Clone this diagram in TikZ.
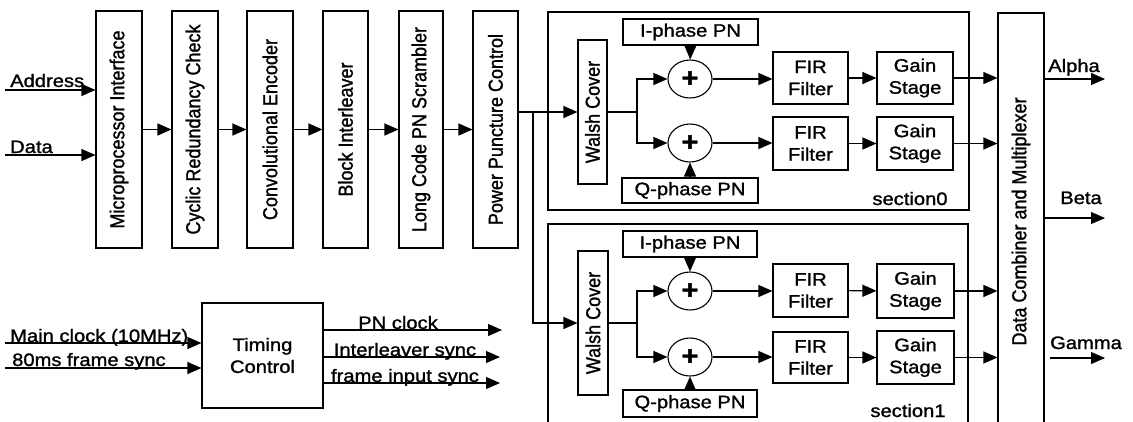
\documentclass[tikz,border=0pt]{standalone}
\usepackage{fontspec}
\setmainfont{Liberation Sans}[FakeStretch=1.12,FakeBold=1.3]
\newfontfamily\vfont{Liberation Sans}[FakeBold=1.3]
\usetikzlibrary{arrows.meta,shapes.geometric}
\tikzset{
 blk/.style={draw, line width=1.1pt, inner sep=0pt, align=center, font=\fontsize{18}{22}\selectfont},
 arr/.style={line width=1.1pt, -{Triangle[length=14pt,width=12pt]}},
 ln/.style={line width=1.1pt},
 lbl/.style={inner sep=0pt, font=\fontsize{18}{22}\selectfont},
 plus/.style={draw, ellipse, line width=1.1pt, minimum width=44pt, minimum height=38pt, inner sep=0pt, font=\fontsize{26}{26}\selectfont\bfseries},
}
\newcommand{\vtext}[1]{\rotatebox{90}{\scalebox{1}[1.12]{\vfont #1}}}
\begin{document}
\begin{tikzpicture}[x=1pt,y=-1pt]
\clip (0,0) rectangle (1133,421);
% pipeline
\node[blk, minimum width=46, minimum height=237] (mi) at (119,129.5) {\vtext{Microprocessor Interface}};
\node[blk, minimum width=46, minimum height=237] (crc) at (195,129.5) {\vtext{Cyclic Redundancy Check}};
\node[blk, minimum width=46, minimum height=237] (conv) at (270,129.5) {\vtext{Convolutional Encoder}};
\node[blk, minimum width=45, minimum height=237] (bi) at (345.5,129.5) {\vtext{Block Interleaver}};
\node[blk, minimum width=44, minimum height=237] (lc) at (421,129.5) {\vtext{Long Code PN Scrambler}};
\node[blk, minimum width=45, minimum height=237] (ppc) at (495.5,129.5) {\vtext{Power Puncture Control}};
\draw[arr] (mi) -- (crc);
\draw[arr] (crc) -- (conv);
\draw[arr] (conv) -- (bi);
\draw[arr] (bi) -- (lc);
\draw[arr] (lc) -- (ppc);
\coordinate (ad) at (5,90);
\coordinate (da) at (5,155);
\draw[arr] (ad) -- (ad -| mi.west);
\draw[arr] (da) -- (da -| mi.west);
\node[lbl, anchor=base west] (adl) at (10,87) {Address};
\node[lbl, anchor=base west] (dal) at (10,153) {Data};
% sections
\node[draw, ln, inner sep=0, minimum width=421, minimum height=198] (s0) at (758.5,111) {};
\node[draw, ln, inner sep=0, minimum width=420, minimum height=216] (s1) at (758,332) {};
\node[lbl, anchor=base] (s0l) at (910,205) {section0};
\node[lbl, anchor=base] (s1l) at (908,417) {section1};
% walsh
\node[blk, minimum width=29, minimum height=144] (w0) at (592.5,112) {\vtext{Walsh Cover}};
\node[blk, minimum width=30, minimum height=144] (w1) at (593,323) {\vtext{Walsh Cover}};
\coordinate (br) at (533,112);
\draw[arr] (ppc.east |- w0.west) -- (w0.west);
\draw[arr] (br) |- (w1.west);
% PN boxes and adders
\node[blk, minimum width=135, minimum height=26] (ip0) at (690.5,32) {I-phase PN};
\node[blk, minimum width=136, minimum height=25] (qp0) at (690,190.5) {Q-phase PN};
\node[blk, minimum width=134, minimum height=26] (ip1) at (690,244) {I-phase PN};
\node[blk, minimum width=134, minimum height=27] (qp1) at (690,403.5) {Q-phase PN};
\node[plus] (c0a) at (690,79) {+};
\node[plus] (c0b) at (690,143) {+};
\node[plus] (c1a) at (690,291) {+};
\node[plus] (c1b) at (690,357) {+};
\draw[arr] (ip0) -- (c0a);
\draw[arr] (qp0) -- (c0b);
\draw[arr] (ip1) -- (c1a);
\draw[arr] (qp1) -- (c1b);
\coordinate (b0) at (637,112);
\coordinate (b1) at (637,323);
\draw[ln] (w0.east |- b0) -- (b0);
\draw[arr] (b0) |- (c0a.west);
\draw[arr] (b0) |- (c0b.west);
\draw[ln] (w1.east |- b1) -- (b1);
\draw[arr] (b1) |- (c1a.west);
\draw[arr] (b1) |- (c1b.west);
% FIR and gain
\node[blk, minimum width=75, minimum height=52] (f0a) at (810.5,78) {FIR\\Filter};
\node[blk, minimum width=75, minimum height=53] (f0b) at (810.5,143.5) {FIR\\Filter};
\node[blk, minimum width=75, minimum height=53] (f1a) at (810.5,290.5) {FIR\\Filter};
\node[blk, minimum width=75, minimum height=51] (f1b) at (810.5,357.5) {FIR\\Filter};
\node[blk, minimum width=76, minimum height=52] (g0a) at (915,78) {Gain\\Stage};
\node[blk, minimum width=76, minimum height=53] (g0b) at (915,143.5) {Gain\\Stage};
\node[blk, minimum width=77, minimum height=54] (g1a) at (915.5,291) {Gain\\Stage};
\node[blk, minimum width=77, minimum height=53] (g1b) at (915.5,357.5) {Gain\\Stage};
\draw[arr] (c0a.east) -- (c0a.east -| f0a.west);
\draw[arr] (c0b.east) -- (c0b.east -| f0b.west);
\draw[arr] (c1a.east) -- (c1a.east -| f1a.west);
\draw[arr] (c1b.east) -- (c1b.east -| f1b.west);
\draw[arr] (f0a) -- (g0a);
\draw[arr] (f0b) -- (g0b);
\draw[arr] (f1a) -- (g1a);
\draw[arr] (f1b) -- (g1b);
% data combiner
\node[blk, minimum width=46, minimum height=417] (dc) at (1021,221.5) {\vtext{Data Combiner and Multiplexer}};
\draw[arr] (g0a.east) -- (g0a.east -| dc.west);
\draw[arr] (g0b.east) -- (g0b.east -| dc.west);
\draw[arr] (g1a.east) -- (g1a.east -| dc.west);
\draw[arr] (g1b.east) -- (g1b.east -| dc.west);
\coordinate (oa) at (1105,79);
\coordinate (ob) at (1105,218);
\coordinate (og) at (1105,358);
\draw[arr] (oa -| dc.east) -- (oa);
\draw[arr] (ob -| dc.east) -- (ob);
\draw[arr] (1050,358) -- (og);
\node[lbl, anchor=base] (al) at (1074,72) {Alpha};
\node[lbl, anchor=base] (bl) at (1081,204) {Beta};
\node[lbl, anchor=base] (gl) at (1086,349) {Gamma};
% timing
\node[blk, minimum width=121, minimum height=105] (tc) at (262.5,355.5) {Timing\\Control};
\coordinate (mc) at (5,343);
\coordinate (fs) at (5,368);
\draw[arr] (mc) -- (mc -| tc.west);
\draw[arr] (fs) -- (fs -| tc.west);
\node[lbl, anchor=base west] (mcl) at (10,342) {Main clock (10MHz)};
\node[lbl, anchor=base west] (fsl) at (12,366) {80ms frame sync};
\coordinate (pc) at (502,330);
\coordinate (is) at (500,357);
\coordinate (fi) at (500,383);
\draw[arr] (pc -| tc.east) -- (pc);
\draw[arr] (is -| tc.east) -- (is);
\draw[arr] (fi -| tc.east) -- (fi);
\node[lbl, anchor=base] (pcl) at (398,329) {PN clock};
\node[lbl, anchor=base] (isl) at (405,356) {Interleaver sync};
\node[lbl, anchor=base] (fil) at (405,382) {frame input sync};
\end{tikzpicture}
\end{document}
